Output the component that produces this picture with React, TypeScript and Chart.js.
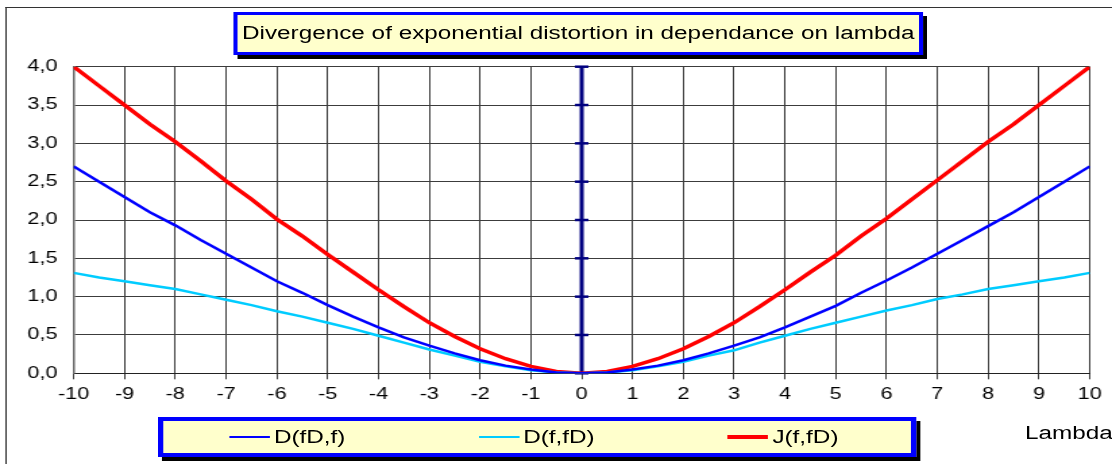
import React, { useEffect, useRef } from 'react';
import { Chart, registerables } from 'chart.js';

Chart.register(...registerables);

// ---- data ----
const lambdaValues = [
  -10, -9.5, -9, -8.5, -8, -7.5, -7, -6.5, -6, -5.5, -5, -4.5, -4, -3.5, -3, -2.5, -2, -1.5, -1, -0.5,
  0,
  0.5, 1, 1.5, 2, 2.5, 3, 3.5, 4, 4.5, 5, 5.5, 6, 6.5, 7, 7.5, 8, 8.5, 9, 9.5, 10,
];
const dFDf = [
  2.7, 2.5, 2.3, 2.1, 1.93, 1.74, 1.56, 1.38, 1.2, 1.05, 0.89, 0.74, 0.6, 0.47, 0.36, 0.26, 0.17, 0.1, 0.05, 0.012,
  0,
  0.012, 0.05, 0.1, 0.17, 0.26, 0.36, 0.47, 0.6, 0.74, 0.88, 1.05, 1.21, 1.38, 1.56, 1.74, 1.92, 2.1, 2.3, 2.5, 2.7,
];
const dFfD = [
  1.31, 1.25, 1.2, 1.15, 1.1, 1.03, 0.96, 0.89, 0.81, 0.74, 0.66, 0.58, 0.49, 0.4, 0.31, 0.23, 0.15, 0.09, 0.04, 0.01,
  0,
  0.01, 0.04, 0.09, 0.15, 0.23, 0.3, 0.4, 0.49, 0.58, 0.66, 0.74, 0.82, 0.89, 0.97, 1.03, 1.1, 1.15, 1.2, 1.25, 1.31,
];
const jFfD = [
  4.0, 3.75, 3.5, 3.25, 3.02, 2.77, 2.51, 2.27, 2.01, 1.79, 1.55, 1.32, 1.09, 0.87, 0.66, 0.48, 0.32, 0.19, 0.09, 0.025,
  0,
  0.025, 0.09, 0.19, 0.32, 0.48, 0.66, 0.87, 1.09, 1.32, 1.54, 1.79, 2.02, 2.27, 2.52, 2.77, 3.02, 3.25, 3.5, 3.75, 4.0,
];
const xTickLabels = ['-10', '-9', '-8', '-7', '-6', '-5', '-4', '-3', '-2', '-1', '0', '1', '2', '3', '4', '5', '6', '7', '8', '9', '10'];
const yTickLabels = ['0,0', '0,5', '1,0', '1,5', '2,0', '2,5', '3,0', '3,5', '4,0'];
const seriesNames = ['D(fD,f)', 'D(f,fD)', 'J(f,fD)'];
const seriesColors = ['#0000FF', '#00CCFF', '#FF0000'];
const seriesWidths = [2.5, 2.5, 3.5];
const titleText = 'Divergence of exponential distortion in dependance on lambda';
const xAxisTitle = 'Lambda';

// ---- layout (unstretched space, stretched horizontally to 1112) ----
const W = 824;
const H = 464;
const SX = 1112 / W;
const FONT = '"Liberation Sans", Arial, Helvetica, sans-serif';

const zeroAxisPlugin = {
  id: 'zeroAxis',
  beforeDatasetsDraw(chart: any) {
    const { ctx, scales } = chart;
    const x = scales.x;
    const y = scales.y;
    const px = x.getPixelForValue(0);
    ctx.save();
    ctx.strokeStyle = '#000080';
    ctx.lineWidth = 3;
    ctx.beginPath();
    ctx.moveTo(px, y.getPixelForValue(y.max));
    ctx.lineTo(px, y.getPixelForValue(y.min));
    ctx.stroke();
    ctx.lineWidth = 2.5;
    y.ticks.forEach((t: any) => {
      const py = y.getPixelForValue(t.value);
      ctx.beginPath();
      ctx.moveTo(px - 5, py);
      ctx.lineTo(px + 5, py);
      ctx.stroke();
    });
    ctx.restore();
  },
};

function ChartCanvas() {
  const ref = useRef<HTMLCanvasElement | null>(null);
  useEffect(() => {
    if (!ref.current) return;
    const series = [dFDf, dFfD, jFfD];
    const chart = new Chart(ref.current, {
      type: 'line',
      data: {
        datasets: series.map((vals, i) => ({
          label: seriesNames[i],
          data: lambdaValues.map((lx, k) => ({ x: lx, y: vals[k] })),
          borderColor: seriesColors[i],
          backgroundColor: seriesColors[i],
          borderWidth: seriesWidths[i],
          pointRadius: 0,
          tension: 0,
          fill: false,
        })),
      },
      options: {
        animation: false,
        responsive: false,
        devicePixelRatio: 1,
        layout: { padding: { left: 0, right: 16.5, top: 66.7, bottom: 0 } },
        plugins: { legend: { display: false }, title: { display: false }, tooltip: { enabled: false } },
        scales: {
          x: {
            type: 'linear',
            min: -10,
            max: 10,
            afterFit: (s: any) => { s.height = 90.7; },
            ticks: {
              stepSize: 1,
              autoSkip: false,
              maxRotation: 0,
              padding: 6,
              color: '#000',
              font: { family: FONT, size: 16 },
              callback: (_v: any, i: number) => xTickLabels[i],
            },
            grid: { color: '#3c3c3c', lineWidth: 1, tickLength: 6, drawTicks: true },
            border: { color: '#222', width: 1 },
          },
          y: {
            type: 'linear',
            min: 0,
            max: 4,
            afterFit: (s: any) => { s.width = 54.6; },
            ticks: {
              stepSize: 0.5,
              padding: 12,
              color: '#000',
              font: { family: FONT, size: 16 },
              callback: (_v: any, i: number) => yTickLabels[i],
            },
            grid: { color: '#3c3c3c', lineWidth: 1, drawTicks: false },
            border: { color: '#666', width: 1.5 },
          },
        },
      },
      plugins: [zeroAxisPlugin],
    } as any);
    return () => chart.destroy();
  }, []);
  return (
    <canvas
      ref={ref}
      width={W}
      height={H}
      style={{ position: 'absolute', left: 0, top: 0, width: W + 'px', height: H + 'px' }}
    />
  );
}

const boxStyle: React.CSSProperties = {
  position: 'absolute',
  boxSizing: 'border-box',
  background: '#FFFFCC',
  border: '3px solid #0000FF',
  boxShadow: '3px 4px 0 #000',
  fontFamily: FONT,
  color: '#000',
};

export default function App() {
  return (
    <div
      style={{
        position: 'absolute',
        left: 0,
        top: 0,
        width: W + 'px',
        height: H + 'px',
        transform: `scaleX(${SX})`,
        transformOrigin: '0 0',
        background: '#fff',
        overflow: 'hidden',
      }}
    >
      <div
        style={{
          position: 'absolute',
          left: '4px',
          top: '7px',
          width: W + 'px',
          height: H + 'px',
          borderLeft: '1.5px solid #333',
          borderTop: '1.5px solid #333',
        }}
      />
      <ChartCanvas />
      <div
        style={{
          ...boxStyle,
          left: '173px',
          top: '12px',
          width: '511px',
          height: '43px',
          fontSize: '18px',
          lineHeight: '37px',
          textAlign: 'center',
          whiteSpace: 'nowrap',
        }}
      >
        {titleText}
      </div>
      <div
        style={{
          ...boxStyle,
          left: '117px',
          top: '417px',
          width: '562px',
          height: '40px',
          border: '4px solid #0000FF',
          display: 'flex',
        }}
      >
        {seriesNames.map((name, i) => (
          <div
            key={name}
            style={{ flex: '1 1 0', position: 'relative', display: 'flex', alignItems: 'center', paddingLeft: '49px' }}
          >
            <span
              style={{
                display: 'inline-block',
                width: '30px',
                height: seriesWidths[i] + 'px',
                background: seriesColors[i],
                marginRight: '3px',
              }}
            />
            <span style={{ fontSize: '18px', whiteSpace: 'nowrap' }}>{name}</span>
          </div>
        ))}
      </div>
      <div
        style={{
          position: 'absolute',
          left: '759.5px',
          top: '422px',
          fontFamily: FONT,
          fontSize: '18px',
          lineHeight: '22px',
          whiteSpace: 'nowrap',
          color: '#000',
        }}
      >
        {xAxisTitle}
      </div>
    </div>
  );
}
